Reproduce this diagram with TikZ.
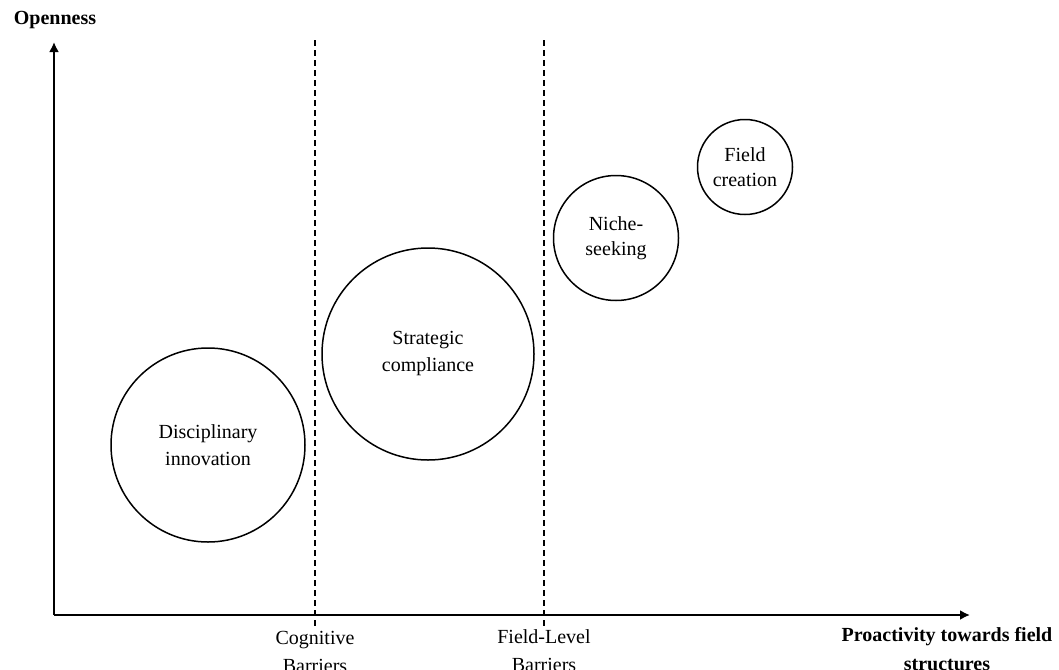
\documentclass[tikz,border=0pt]{standalone}
\usepackage{fontspec}
\setmainfont{Liberation Serif}
\usetikzlibrary{arrows.meta}
\begin{document}
\begin{tikzpicture}[x=0.5pt,y=-0.5pt,
  axis/.style={line width=1pt,-{Latex[length=5pt,width=5pt]}},
  barrier/.style={line width=0.8pt,dash pattern=on 3pt off 2pt},
  bubble/.style={circle,draw,line width=0.75pt,inner sep=0pt,align=center,font=\fontsize{10}{13.5}\selectfont},
  smallbubble/.style={bubble,font=\fontsize{10}{12.5}\selectfont},
  lbl/.style={align=center,inner sep=0pt,font=\fontsize{10}{14}\selectfont}]
\useasboundingbox (0,0) rectangle (1059,669);
\coordinate (o) at (54,615);
\coordinate (ytip) at (54,42);
\coordinate (xtip) at (970,615);
\coordinate (c1t) at (315,40);
\coordinate (c1b) at (315,627);
\coordinate (c2t) at (544,40);
\coordinate (c2b) at (544,627);
\draw[axis] (o) -- (ytip);
\draw[axis] (o) -- (xtip);
\draw[barrier] (c1t) -- (c1b);
\draw[barrier] (c2t) -- (c2b);
\node[bubble,minimum size=97pt] (di) at (208,445) {Disciplinary\\innovation};
\node[bubble,minimum size=106pt] (sc) at (428,354) {Strategic\\compliance};
\node[smallbubble,minimum size=62.5pt] (ns) at (616,238) {Niche-\\seeking};
\node[smallbubble,minimum size=47.5pt] (fc) at (745,167) {Field\\creation};
\node[lbl,font=\fontsize{10}{14}\selectfont\bfseries] (open) at (55,20) {Openness};
\node[lbl,anchor=north] (cog) at (315,631) {Cognitive\\Barriers};
\node[lbl,anchor=north] (fl) at (544,629) {Field-Level\\Barriers};
\node[lbl,anchor=north,font=\fontsize{10}{14.5}\selectfont\bfseries] (pro) at (947,627) {Proactivity towards field\\structures};
\end{tikzpicture}
\end{document}
